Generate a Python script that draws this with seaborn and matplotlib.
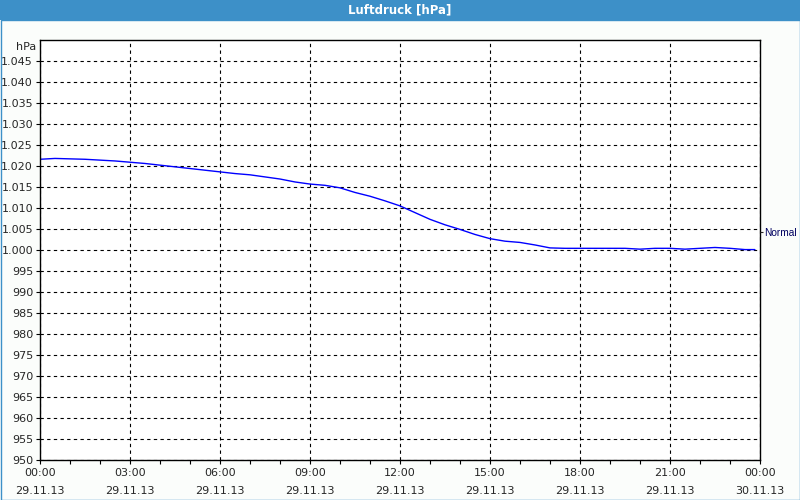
import matplotlib
matplotlib.use("Agg")
import matplotlib.pyplot as plt
import seaborn as sns
import pandas as pd
from matplotlib.patches import Rectangle
from matplotlib.ticker import MultipleLocator, FixedLocator

# ---- data ----
hours = [0, 0.5, 1, 1.5, 2, 2.5, 3, 3.5, 4, 4.5, 5, 5.5, 6, 6.5, 7, 7.5, 8, 8.5,
         9, 9.5, 10, 10.5, 11, 11.5, 12, 12.5, 13, 13.5, 14, 14.5, 15, 15.5, 16,
         16.5, 17, 17.5, 18, 18.5, 19, 19.5, 20, 20.5, 21, 21.5, 22, 22.5, 23,
         23.5, 23.83]
pressure = [1021.6, 1021.8, 1021.7, 1021.6, 1021.4, 1021.2, 1020.9, 1020.6,
            1020.2, 1019.8, 1019.4, 1019.0, 1018.6, 1018.2, 1017.9, 1017.4,
            1016.9, 1016.2, 1015.7, 1015.4, 1014.8, 1013.7, 1012.8, 1011.7,
            1010.5, 1008.9, 1007.3, 1006.0, 1004.9, 1003.7, 1002.7, 1002.1,
            1001.8, 1001.2, 1000.5, 1000.4, 1000.4, 1000.4, 1000.4, 1000.4,
            1000.2, 1000.4, 1000.4, 1000.2, 1000.4, 1000.6, 1000.4, 1000.1,
            1000.1]
x_tick_hours = [0, 3, 6, 9, 12, 15, 18, 21, 24]
x_tick_times = ["00:00", "03:00", "06:00", "09:00", "12:00", "15:00", "18:00", "21:00", "00:00"]
x_tick_dates = ["29.11.13"] * 8 + ["30.11.13"]
y_ticks = list(range(950, 1050, 5))
normal_value = 1004.3
title = "Luftdruck [hPa]"

df = pd.DataFrame({"hour": hours, "hPa": pressure})

sns.set_theme(style="white")
plt.rcParams["font.family"] = ["DejaVu Sans"]

bg = "#fbfdfb"
bar = "#3d90c8"
fig = plt.figure(figsize=(8, 5), dpi=100, facecolor=bg)

# title bar and frame
fig.patches.append(Rectangle((0, 1 - 20 / 500), 1, 20 / 500, transform=fig.transFigure,
                             facecolor=bar, edgecolor="none", zorder=0))
fig.patches.append(Rectangle((0.5 / 800, 0.5 / 500), 1 - 1.0 / 800, 1 - 20 / 500,
                             transform=fig.transFigure, facecolor="none",
                             edgecolor=bar, linewidth=1.0, zorder=0))
fig.text(0.5, 1 - 10 / 500, title, color="white", fontsize=8.5, fontweight="bold",
         ha="center", va="center")

ax = fig.add_axes([40 / 800, 40 / 500, 720 / 800, 420 / 500])
ax.set_facecolor("white")
sns.lineplot(data=df, x="hour", y="hPa", ax=ax, color="#0000ff", linewidth=1.0)

ax.set_xlim(0, 24)
ax.set_ylim(950, 1050)
ax.set_xlabel("")
ax.set_ylabel("")

ax.xaxis.set_major_locator(FixedLocator(x_tick_hours))
ax.xaxis.set_minor_locator(MultipleLocator(1))
ax.set_xticklabels([f"{t}\n{d}" for t, d in zip(x_tick_times, x_tick_dates)],
                   fontsize=8, linespacing=1.9)
ax.yaxis.set_major_locator(FixedLocator(y_ticks))
ax.set_yticklabels([(f"{v // 1000}.{v % 1000:03d}" if v >= 1000 else str(v)) for v in y_ticks],
                   fontsize=8)

ax.tick_params(axis="both", which="both", direction="out", length=3, width=0.8,
               color="black", pad=2)
ax.tick_params(axis="x", which="major", pad=3)
ax.tick_params(left=True, bottom=True)
ax.tick_params(axis="x", which="minor", bottom=True, length=3)

ax.grid(True, which="major", color="black", linestyle=(0, (3, 3)), linewidth=0.8)
for s in ax.spines.values():
    s.set_color("black")
    s.set_linewidth(1.0)

ax.text(-0.005, 1.0 - 7 / 420, "hPa", transform=ax.transAxes, ha="right", va="center",
        fontsize=8)

# "Normal" marker on right side
axr = ax.twinx()
axr.set_ylim(950, 1050)
axr.set_yticks([normal_value])
axr.set_yticklabels(["Normal"], fontsize=7.3, color="#000060", family=["Liberation Sans"])
axr.tick_params(axis="y", direction="out", length=2.5, width=0.8, pad=0.5, right=True)
axr.grid(False)
for s in axr.spines.values():
    s.set_visible(False)

fig.savefig("out.png", dpi=100, facecolor=bg)
